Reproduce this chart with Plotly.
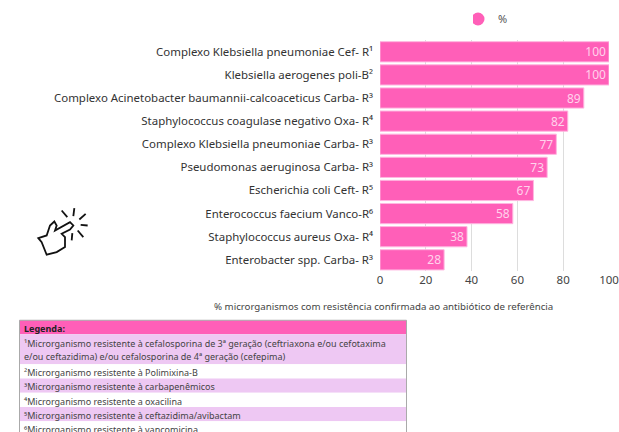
import plotly.graph_objects as go

W, H = 619, 432
ML, MR, MT, MB = 15, 10, 5, 5
categories = [
    "Complexo Klebsiella pneumoniae Cef- R¹",
    "Klebsiella aerogenes poli-B²",
    "Complexo Acinetobacter baumannii-calcoaceticus Carba- R³",
    "Staphylococcus coagulase negativo Oxa- R⁴",
    "Complexo Klebsiella pneumoniae Carba- R³",
    "Pseudomonas aeruginosa Carba- R³",
    "Escherichia coli Ceft- R⁵",
    "Enterococcus faecium Vanco-R⁶",
    "Staphylococcus aureus Oxa- R⁴",
    "Enterobacter spp. Carba- R³",
]
values = [100, 100, 89, 82, 77, 73, 67, 58, 38, 28]
series_name = "%"
x_title = "% microrganismos com resistência confirmada ao antibiótico de referência"
table_title = "Legenda:"
table_rows = [
    ["¹Microrganismo resistente à cefalosporina de 3ª geração (ceftriaxona e/ou cefotaxima",
     "e/ou ceftazidima) e/ou cefalosporina de 4ª geração (cefepima)"],
    ["²Microrganismo resistente à Polimixina-B"],
    ["³Microrganismo resistente à carbapenêmicos"],
    ["⁴Microrganismo resistente a oxacilina"],
    ["⁵Microrganismo resistente à ceftazidima/avibactam"],
    ["⁶Microrganismo resistente à vancomicina"],
]

PINK = "#ff5fb8"
LILAC = "#eec8f3"
TEXT = "#333333"
FONT = "Noto Sans"


def px(x):
    return (x - ML) / (W - ML - MR)


def py(y):
    return 1 - (y - MT) / (H - MT - MB)


fig = go.Figure()
fig.add_bar(
    y=categories, x=values, orientation="h", showlegend=False,
    marker=dict(color=PINK, line=dict(color="#ffb6e0", width=1)),
    text=values, textposition="inside", insidetextanchor="end",
    textangle=0, constraintext="none", cliponaxis=False,
    textfont=dict(color="#ffd3ec", size=12, family=FONT),
)
fig.add_scatter(
    x=[None], y=[None], mode="markers", name=series_name,
    marker=dict(color=PINK, size=13, symbol="circle"),
)

shapes, annotations = [], []

annotations.append(dict(xref="paper", yref="paper", x=px(383), y=py(306), text=x_title,
                        showarrow=False, xanchor="center", yanchor="middle",
                        font=dict(size=9.7, color="#444444", family=FONT)))

# legend table
tx0, tx1 = 19.5, 406.5
shapes.append(dict(type="rect", xref="paper", yref="paper", layer="above",
                   x0=px(tx0), x1=px(tx1), y0=py(320), y1=py(334),
                   fillcolor=PINK, line=dict(width=0)))
annotations.append(dict(xref="paper", yref="paper", x=px(22), y=py(328.5),
                        text=f"<b>{table_title}</b>", showarrow=False, xanchor="left",
                        yanchor="middle", font=dict(size=9, color="#222222", family=FONT)))
y = 334
for i, row in enumerate(table_rows):
    h = 30 if len(row) == 2 else 14.3
    shapes.append(dict(type="rect", xref="paper", yref="paper", layer="above",
                       x0=px(tx0), x1=px(tx1), y0=py(y), y1=py(y + h),
                       fillcolor=LILAC if i % 2 == 0 else "white", line=dict(width=0)))
    for j, line in enumerate(row):
        cy = y + 9.5 + j * 12.6 if len(row) == 2 else y + h / 2 + 1.2
        annotations.append(dict(xref="paper", yref="paper", x=px(22), y=py(cy),
                                text=line, showarrow=False, xanchor="left", yanchor="middle",
                                font=dict(size=9, color="#444444", family=FONT)))
    y += h
shapes.append(dict(type="rect", xref="paper", yref="paper", layer="above",
                   x0=px(tx0), x1=px(tx1), y0=py(320), y1=py(y + 10),
                   fillcolor="rgba(0,0,0,0)", line=dict(color="#aaaaaa", width=1)))

def ic(zx, zy):
    return f"{px(20 + zx / 3):.5f},{py(195 + zy / 3):.5f}"


hand = [(55, 128), (80, 120), (90, 90), (103, 78), (110, 90), (105, 105), (150, 80), (160, 90),
        (150, 102), (125, 115), (135, 125), (135, 155), (110, 170), (80, 178), (65, 140)]
shapes.append(dict(type="path", xref="paper", yref="paper", layer="above",
                   path="M" + " L".join(ic(*p) for p in hand) + " Z",
                   fillcolor="white", line=dict(color="#111111", width=1.8)))
rays = [((125, 45), (142, 65)), ((163, 38), (160, 62)), ((197, 55), (178, 72)),
        ((203, 90), (182, 88)), ((190, 125), (173, 105)), ((155, 135), (157, 113))]
for a, b in rays:
    shapes.append(dict(type="path", xref="paper", yref="paper", layer="above",
                       path=f"M{ic(*a)} L{ic(*b)}", line=dict(color="#111111", width=1.8)))

fig.update_layout(
    width=W, height=H, autosize=False, margin=dict(l=ML, r=MR, t=MT, b=MB),
    paper_bgcolor="white", plot_bgcolor="white", bargap=0.125,
    font=dict(family=FONT, color=TEXT, size=11.5),
    shapes=shapes, annotations=annotations,
    legend=dict(x=px(473), y=py(19), xanchor="left", yanchor="middle", orientation="h",
                indentation=-15,
                font=dict(size=11, color="#555555", family=FONT), bgcolor="rgba(0,0,0,0)"),
    xaxis=dict(domain=[px(380), min(1, px(609))], anchor="y", range=[0, 100], dtick=20, automargin=False,
               showgrid=True, gridcolor="#dddddd", gridwidth=1, zeroline=False,
               ticks="", ticklabeloverflow="allow", tickfont=dict(size=11.5, color="#444444")),
    yaxis=dict(domain=[py(271), py(39.3)], anchor="x", autorange="reversed", automargin=False,
               ticks="", ticklabelstandoff=6, showgrid=False,
               tickfont=dict(size=11.45, color="#333333")),
)
fig.write_html(
    "out.html",
    config=dict(displayModeBar=False),
    post_script=("document.body.style.margin='0';document.body.style.overflow='hidden';"
                 "document.querySelectorAll('.svg-container').forEach(function(e){e.style.margin='0';});"),
)
